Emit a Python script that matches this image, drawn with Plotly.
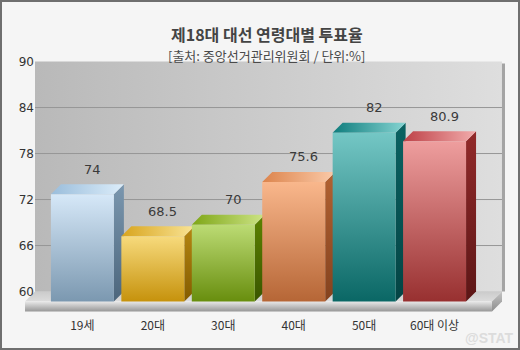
import plotly.graph_objects as go

# 제18대 대선 연령대별 투표율 (단위: %)
categories = ["19세", "20대", "30대", "40대", "50대", "60대 이상"]
turnout = [74, 68.5, 70, 75.6, 82, 80.9]
y_ticks = [60, 66, 72, 78, 84, 90]

# colour sets per bar: front (bottom, top), top face (left, right), side (bottom, top)
front_colors = [("#7b98b0", "#d6e8f8"), ("#c6920c", "#f7da7c"), ("#688e0e", "#bcdb74"),
                ("#b66636", "#f9b78c"), ("#0a6765", "#74c7c5"), ("#983030", "#ee9e9e")]
top_colors = [("#9abddb", "#dcedfa"), ("#d8a41c", "#f9e496"), ("#7ea616", "#cde486"),
              ("#dc844c", "#fbcaa9"), ("#0e7c7c", "#86d4d2"), ("#bd4046", "#f2acac")]
side_colors = [("#4c667c", "#7b97af"), ("#845c00", "#b58612"), ("#3a5600", "#5c8200"),
               ("#84421e", "#b26232"), ("#044444", "#0a6262"), ("#5c1616", "#922a2a")]

BASE = 60          # value of the chart floor
BAR_W = 0.894      # front-face width in category units
DX = 0.142         # horizontal depth offset (category units)
DV = 1.3           # vertical depth offset (value units)
PAD = 0.315        # floor overhang beyond the outer slots

fig = go.Figure()


def face(xs, ys, lo, hi, kind="vertical"):
    fig.add_trace(go.Scatter(
        x=xs + [xs[0]], y=ys + [ys[0]], mode="lines",
        line=dict(width=0, color="rgba(0,0,0,0)"),
        fill="toself",
        fillgradient=dict(type=kind, colorscale=[[0, lo], [1, hi]]),
        hoverinfo="skip", showlegend=False))


n = len(categories)
fl = -0.5 - PAD            # floor front-left
fr = n - 0.5 + PAD         # floor front-right

# back wall with a soft shadow on its right edge
face([fl + DX, fr + DX + 0.045, fr + DX + 0.045, fl + DX],
     [BASE, BASE, y_ticks[-1] - 0.25, y_ticks[-1] - 0.25], "#a4a4a4", "#a4a4a4")
face([fl + DX, fr + DX, fr + DX, fl + DX],
     [BASE, BASE, y_ticks[-1], y_ticks[-1]], "#b9b9b9", "#dedede", "horizontal")

# grid lines on the back wall
for t in y_ticks[1:-1]:
    fig.add_trace(go.Scatter(x=[fl + DX, fr + DX], y=[t, t], mode="lines",
                             line=dict(color="#979797", width=1),
                             hoverinfo="skip", showlegend=False))

# floor: top face, front slab, right side
face([fl, fr, fr + DX, fl + DX], [BASE - DV, BASE - DV, BASE, BASE], "#dcdcdc", "#cbcbcb")
face([fl, fr, fr, fl], [BASE - 2 * DV, BASE - 2 * DV, BASE - DV, BASE - DV], "#979797", "#e8e8e8")
face([fr, fr + DX, fr + DX, fr], [BASE - 2 * DV, BASE - DV, BASE, BASE - DV], "#8e8e8e", "#c4c4c4")

# 3D bars, drawn left to right so each front face covers the previous side face
for i, v in enumerate(turnout):
    x0, x1 = i - BAR_W / 2, i + BAR_W / 2
    face([x1, x1 + DX, x1 + DX, x1], [BASE - DV, BASE, v, v - DV], *side_colors[i])
    face([x0, x1, x1 + DX, x0 + DX], [v - DV, v - DV, v, v], *top_colors[i], kind="horizontal")
    face([x0, x1, x1, x0], [BASE - DV, BASE - DV, v - DV, v - DV], *front_colors[i])

# value labels above each bar
for i, v in enumerate(turnout):
    fig.add_annotation(x=i + DX, y=v, text=f"{v:g}", showarrow=False, yshift=15,
                       font=dict(family="DejaVu Sans", size=13, color="#3a3a3a"))

W, H = 520, 350
ML, MR, MT, MB = 25, 15, 60, 37
pw, ph = W - ML - MR, H - MT - MB

fig.add_annotation(xref="paper", yref="paper", x=0.504, y=1 + (MT - 21) / ph,
                   text="<b>제18대 대선 연령대별 투표율</b>", showarrow=False, borderpad=0,
                   font=dict(family="Noto Sans CJK KR", size=16, color="#444444"))
fig.add_annotation(xref="paper", yref="paper", x=0.504, y=1 + (MT - 45) / ph,
                   text="[출처: 중앙선거관리위원회 / 단위:%]", showarrow=False, borderpad=0,
                   font=dict(family="Noto Sans CJK KR", size=13, color="#4a4a4a"))
fig.add_annotation(xref="paper", yref="paper", x=1 + 10 / pw, y=-(MB - 12) / ph,
                   xanchor="right", yanchor="middle", borderpad=0,
                   text="<b>@STAT</b>", showarrow=False,
                   font=dict(family="Arial", size=14, color="#dcdcdc"))

# outer frame
fig.add_shape(type="rect", xref="paper", yref="paper",
              x0=-(ML - 1) / pw, x1=1 + (MR - 1) / pw,
              y0=-(MB - 1) / ph, y1=1 + (MT - 1) / ph,
              line=dict(color="#6f6f6f", width=2), fillcolor="rgba(0,0,0,0)", layer="above")

fig.update_layout(
    width=W, height=H,
    margin=dict(l=ML, r=MR, t=MT, b=MB),
    paper_bgcolor="#f5f5f5", plot_bgcolor="rgba(0,0,0,0)",
    showlegend=False,
)
fig.update_xaxes(range=[fl, fr + DX + 0.043], tickvals=list(range(n)), ticktext=categories,
                 showgrid=False, zeroline=False, showline=False, ticks="",
                 ticklabelstandoff=4,
                 tickfont=dict(family="Noto Sans CJK KR", size=12, color="#333333"),
                 fixedrange=True)
fig.update_yaxes(range=[BASE - 2.8, 90.2], tickvals=y_ticks, showgrid=False,
                 zeroline=False, showline=False, ticks="", ticklabelstandoff=-10,
                 tickfont=dict(family="DejaVu Sans", size=12, color="#333333"),
                 fixedrange=True)

fig.write_html("out.html")
